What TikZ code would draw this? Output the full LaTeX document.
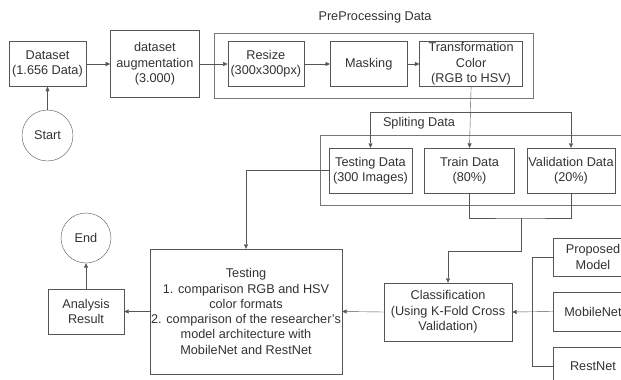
\documentclass[tikz,border=0pt]{standalone}
\usepackage{fontspec}
\setmainfont{Liberation Sans}
\usepackage{tikz}
\usetikzlibrary{arrows.meta, positioning, fit}
\definecolor{lineclr}{RGB}{85, 85, 85}
\definecolor{textclr}{RGB}{51, 51, 51}

\begin{document}
\begin{tikzpicture}[
    x=1pt, y=-1pt,
    node distance=12pt and 24pt,
    font=\fontsize{12.7}{15.3}\selectfont, text=textclr,
    box/.style={rectangle, draw=lineclr, fill=white, inner sep=0pt,
                minimum width=#1, minimum height=45pt, align=center},
    box/.default=77pt,
    term/.style={circle, draw=lineclr, fill=white, inner sep=0pt, minimum size=51pt},
    group/.style={rectangle, draw=lineclr!80, inner sep=0pt},
    arrow/.style={-{Triangle[length=4.5pt, width=4pt]}, draw=lineclr},
    line/.style={draw=lineclr}
]
    \useasboundingbox (0,0) rectangle (621,380);
    \clip (0,0) rectangle (621,380);

    % input
    \node[box] (ds) at (47.5,64) {Dataset\\(1.656 Data)};
    \node[term] (start) at (47.5,135.5) {Start};
    \node[box=89pt, minimum height=67pt, right=24pt of ds] (aug) {dataset\\augmentation\\(3.000)};

    % preprocessing
    \node[box=76pt, right=28pt of aug] (resize) {Resize\\(300x300px)};
    \node[box, right=26pt of resize] (mask) {Masking};
    \node[box=103pt, right=12pt of mask] (trans) {Transformation\\Color\\(RGB to HSV)};
    \coordinate (preA) at (214,33);
    \coordinate (preB) at (533,98);
    \node[group, fit=(preA)(preB)] (pre) {};
    \node (prelbl) at (375,17) {PreProcessing Data};

    % splitting
    \node[box=83pt] (testd) at (370.5,170.5) {Testing Data\\(300 Images)};
    \node[box=90pt] (traind) at (469.5,170.5) {Train Data\\(80\%)};
    \node[box=88pt] (vald) at (571,170.5) {Validation Data\\(20\%)};
    \coordinate (splA) at (320,135);
    \coordinate (splB) at (640,205);
    \node[group, fit=(splA)(splB)] (split) {};
    \node (spllbl) at (419,123) {Spliting Data};

    % classification and testing
    \node[box=128pt, minimum height=58pt] (cls) at (448,312) {Classification\\(Using K-Fold Cross\\Validation)};
    \node[box=192pt, minimum height=125pt] (test) at (246,311.5)
        {Testing\\1. comparison RGB and HSV\\color formats\\2. comparison of the researcher's\\model architecture with\\MobileNet and RestNet};
    \node[box=76pt] (res) at (86,311.5) {Analysis\\Result};
    \node[term, minimum size=50pt] (end) at (86,238) {End};

    % models
    \node[box=80pt, minimum height=38pt] (prop) at (593,257) {Proposed\\Model};
    \node[box=80pt, minimum height=39pt] (mob) at (593,311.5) {MobileNet};
    \node[box=80pt, minimum height=39pt] (rest) at (593,366.5) {RestNet};

    \draw[arrow] (start) -- (ds);
    \draw[arrow] (ds) -- (aug);
    \draw[arrow] (aug) -- (resize);
    \draw[arrow] (resize) -- (mask);
    \draw[arrow] (mask) -- (trans);

    \draw[arrow] (trans.south) -- (traind.north);
    \draw[arrow] (trans.south |- 0,112) -| (testd.north);
    \draw[arrow] (trans.south |- 0,112) -| (vald.north);

    \draw[line] (traind.south) |- (521,218) -| (vald.south);
    \draw[arrow] (521,218) |- (448,251) -- (cls.north);

    \draw[arrow] (testd.west) -| (test.north);
    \draw[arrow] (mob.west) -- (cls.east);
    \draw[line] (prop.west) -- (532,257) -- (532,366.5) -- (rest.west);
    \draw[arrow] (cls.west) -- (test.east);
    \draw[arrow] (test.west) -- (res.east);
    \draw[arrow] (res.north) -- (end.south);
\end{tikzpicture}
\end{document}
